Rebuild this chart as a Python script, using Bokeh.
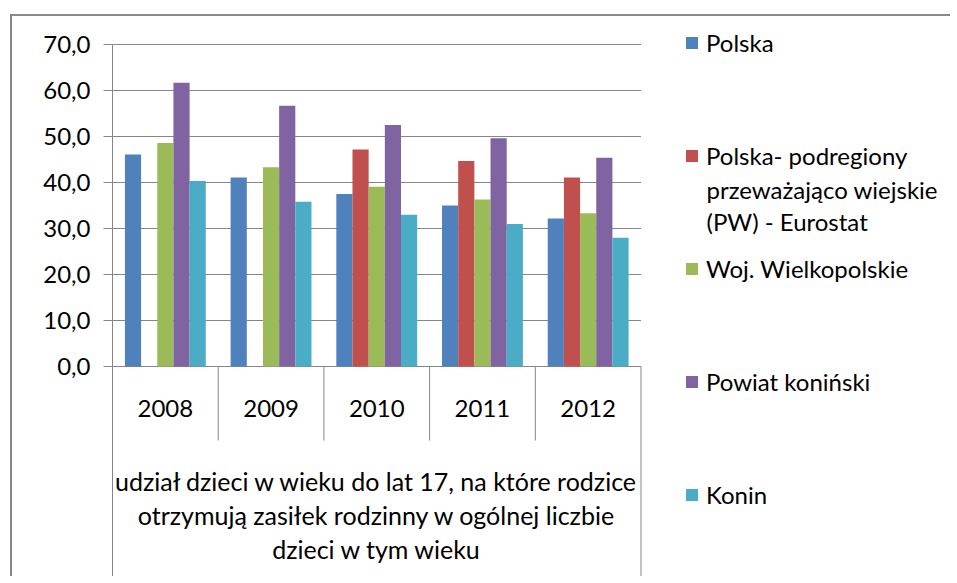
from bokeh.plotting import figure
from bokeh.models import (Range1d, FixedTicker, Legend, LegendItem,
                          Label, ColumnDataSource)
from bokeh.core.properties import value
from bokeh.embed import file_html
from bokeh.resources import INLINE

# ---------------- data ----------------
years = ["2008", "2009", "2010", "2011", "2012"]
polska = [46.1, 41.1, 37.5, 35.0, 32.2]
polska_pw = [None, None, 47.2, 44.7, 41.1]
woj_wielkopolskie = [48.6, 43.3, 39.1, 36.3, 33.3]
powiat_koninski = [61.7, 56.7, 52.5, 49.6, 45.4]
konin = [40.3, 35.8, 33.0, 31.0, 28.0]

series_labels = ["Polska", "Polska- podregiony", "Woj. Wielkopolskie",
                 "Powiat koniński", "Konin"]
pw_extra_lines = ["przeważająco wiejskie", "(PW) - Eurostat"]
y_ticks = [0, 10, 20, 30, 40, 50, 60, 70]
y_tick_labels = ["0,0", "10,0", "20,0", "30,0", "40,0", "50,0", "60,0", "70,0"]
category_title = ["udział dzieci w wieku do lat 17, na które rodzice",
                  "otrzymują zasiłek rodzinny w ogólnej liczbie",
                  "dzieci w tym wieku"]

colors = ["#4F81BD", "#C0504D", "#9BBB59", "#8064A2", "#4BACC6"]
GRID = "#868686"
FONT = "Lato"
FS = "24px"
FS_TITLE = "25px"

# ---------------- layout ----------------
W, H = 940, 562
LEFT = 100
frame_h = H
frame_w = W - LEFT
px_per_unit = 4.6
cat_px = 105.7
y_max = 70
y_end = y_max + 28 / px_per_unit
y_start = y_end - frame_h / px_per_unit
n = len(years)
x_end = frame_w / cat_px

p = figure(width=W, height=H, x_range=Range1d(0, x_end),
           y_range=Range1d(y_start, y_end), output_backend="svg",
           toolbar_location=None, x_axis_location=None,
           min_border_left=LEFT, min_border_top=0, min_border_right=0,
           min_border_bottom=0,
           styles={"margin-left": "10px", "margin-top": "14px",
                   "border-left": "2px solid #898989",
                   "border-top": "2px solid #898989"})
p.outline_line_color = None
p.background_fill_color = "white"
p.border_fill_color = "white"
p.xgrid.visible = False
p.ygrid.visible = False

ax = p.yaxis[0]
ax.ticker = FixedTicker(ticks=y_ticks)
ax.bounds = (y_start, y_max)
ax.major_label_overrides = {t: s for t, s in zip(y_ticks, y_tick_labels)}
ax.major_label_text_font = FONT
ax.major_label_text_font_size = FS
ax.major_label_text_color = "#000000"
ax.major_tick_out = 9
ax.major_tick_in = 0
ax.minor_tick_out = 0
ax.minor_tick_in = 0
ax.axis_line_color = GRID
ax.major_tick_line_color = GRID
ax.major_label_standoff = 13

# horizontal gridlines across the category area only
p.segment(x0=[0] * len(y_ticks), x1=[n] * len(y_ticks), y0=y_ticks, y1=y_ticks,
          line_color=GRID, line_width=1)

# ---------------- bars ----------------
all_series = [polska, polska_pw, woj_wielkopolskie, powiat_koninski, konin]
bar_w = 0.153
renderers = []
for i, vals in enumerate(all_series):
    xs = [k + 0.5 + (i - 2) * bar_w for k, v in enumerate(vals) if v is not None]
    tops = [v for v in vals if v is not None]
    src = ColumnDataSource(dict(x=xs, top=tops))
    r = p.vbar(x="x", top="top", width=bar_w, bottom=0, source=src,
               fill_color=colors[i], line_color=None)
    renderers.append(r)

# ---------------- category axis ----------------
p.segment(x0=list(range(1, n)), x1=list(range(1, n)), y0=[0] * (n - 1),
          y1=[-74 / px_per_unit] * (n - 1), line_color=GRID, line_width=1)
p.segment(x0=[n], x1=[n], y0=[0], y1=[y_start], line_color=GRID, line_width=1)

p.text(x=[k + 0.5 for k in range(n)], y=[-42 / px_per_unit] * n, text=years,
       text_font=value(FONT), text_font_size=FS, text_align="center",
       text_baseline="middle", text_color="#000000")

p.text(x=[n / 2] * 3, y=[-114 / px_per_unit, -148 / px_per_unit, -182 / px_per_unit],
       text=category_title, text_font=value(FONT), text_font_size=FS_TITLE,
       text_align="center", text_baseline="middle", text_color="#000000")

# ---------------- legend ----------------
items = [LegendItem(label=lab, renderers=[r]) for lab, r in zip(series_labels, renderers)]
legend = Legend(items=items, location=(572, 69), padding=0, margin=0,
                border_line_color=None, background_fill_alpha=0,
                glyph_width=15, glyph_height=15, label_standoff=7,
                label_height=28, spacing=84, label_text_font=FONT,
                label_text_font_size=FS, label_text_color="#000000")
p.add_layout(legend, "center")

for k, line in enumerate(pw_extra_lines):
    p.add_layout(Label(x=594, y=389 - 32 * k, x_units="screen", y_units="screen",
                       text=line, text_font=FONT, text_font_size=FS,
                       text_baseline="middle", text_align="left",
                       text_color="#000000"))

open("out.html", "w").write(file_html(p, INLINE))
